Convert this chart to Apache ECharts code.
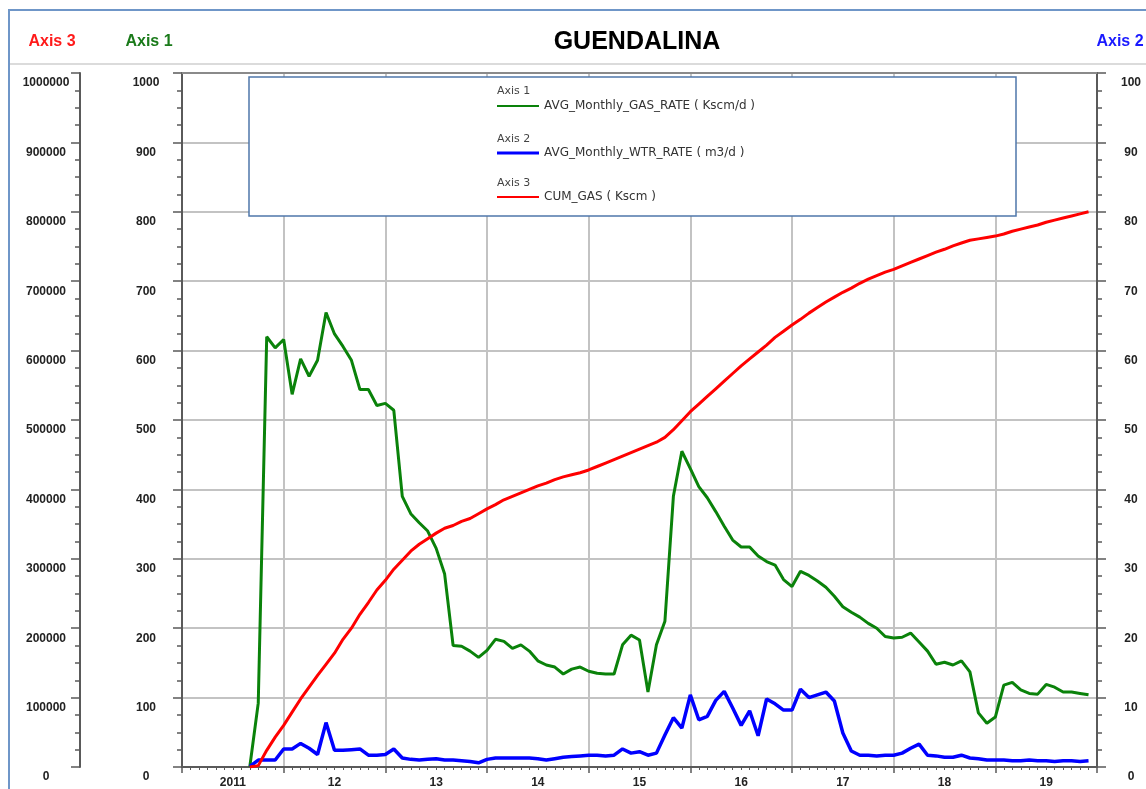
<!DOCTYPE html>
<html><head><meta charset="utf-8">
<script src="https://cdn.jsdelivr.net/npm/echarts@6/dist/echarts.min.js"></script>
<style>html,body{margin:0;padding:0;background:#fff}#c{width:1146px;height:789px}</style>
</head><body><div id="c"></div>
<script>
// ---- data (monthly, starting Sep 2011; x measured in months since Jan 2011) ----
const startMonth = '2011-09';
const yearLabels = ['2011','12','13','14','15','16','17','18','19'];

const gasRate = [ // AVG_Monthly_GAS_RATE (Kscm/d), Axis 1
  0, 92, 620, 604, 616, 537, 588, 563, 586, 655,
  624, 606, 586, 544, 544, 521, 524, 514, 390, 365,
  352, 340, 315, 278, 175, 174, 167, 158, 168, 184,
  181, 171, 176, 167, 153, 147, 144, 134, 141, 144,
  138, 135, 134, 134, 176, 190, 183, 108, 176, 210,
  390, 455, 430, 404, 388, 368, 347, 327, 317, 317,
  304, 296, 291, 270, 260, 282, 276, 268, 259, 246,
  231, 223, 216, 207, 200, 188, 186, 187, 193, 180,
  167, 148, 151, 147, 153, 137, 78, 63, 72, 118,
  122, 111, 106, 105, 119, 115, 108, 108, 106, 104
];
const wtrRate = [ // AVG_Monthly_WTR_RATE (m3/d), Axis 2
  0.1, 1.0, 1.0, 1.0, 2.6, 2.6, 3.4, 2.7, 1.8, 6.4,
  2.4, 2.4, 2.5, 2.6, 1.7, 1.7, 1.8, 2.6, 1.3, 1.1,
  1.0, 1.1, 1.2, 1.0, 1.0, 0.9, 0.8, 0.6, 1.1, 1.3,
  1.3, 1.3, 1.3, 1.3, 1.2, 1.0, 1.2, 1.4, 1.5, 1.6,
  1.7, 1.7, 1.6, 1.7, 2.6, 2.0, 2.2, 1.7, 2.0, 4.6,
  7.1, 5.6, 10.4, 6.8, 7.3, 9.6, 10.9, 8.5, 6.0, 8.1,
  4.5, 9.8, 9.1, 8.2, 8.2, 11.2, 10.0, 10.4, 10.8, 9.5,
  4.9, 2.3, 1.7, 1.7, 1.6, 1.7, 1.7, 2.0, 2.7, 3.3,
  1.7, 1.6, 1.4, 1.4, 1.7, 1.3, 1.2, 1.0, 1.0, 1.0,
  0.9, 0.9, 1.0, 0.9, 0.9, 0.8, 0.9, 0.9, 0.8, 0.9
];
const cumGas = [ // CUM_GAS (Kscm), Axis 3
  0, 2000, 24000, 43000, 60000, 79000, 98000, 115000, 132000, 148000,
  164000, 184000, 200000, 220000, 237000, 255000, 269000, 285000, 298000, 311000,
  321000, 329000, 337000, 344000, 348000, 354000, 358000, 365000, 372000, 378000,
  385000, 390000, 395000, 400000, 405000, 409000, 414000, 418000, 421000, 424000,
  428000, 433000, 438000, 443000, 448000, 453000, 458000, 463000, 468000, 475000,
  486000, 499000, 512000, 523000, 534000, 545000, 556000, 567000, 578000, 588000,
  598000, 608000, 619000, 628000, 637000, 645000, 654000, 662000, 670000, 677000,
  684000, 690000, 697000, 703000, 708000, 713000, 717000, 722000, 727000, 732000,
  737000, 742000, 746000, 751000, 755000, 759000, 761000, 763000, 765000, 768000,
  772000, 775000, 778000, 781000, 785000, 788000, 791000, 794000, 797000, 800000
];

// ---- build ----
const [sy, sm] = startMonth.split('-').map(Number);
const m0 = (sy - 2011) * 12 + (sm - 1);
const toPairs = arr => arr.map((v, i) => [m0 + i, v]);

const labelFont = {fontFamily: 'Liberation Sans, Arial, sans-serif', fontWeight: 'bold', fontSize: 12, color: '#222'};
const axisCol = '#5a5a5a';
const gridCol = '#c3c3c3';
const legendText = {fontFamily: 'DejaVu Sans', fontSize: 12, color: '#333'};

function yAxisDef(extra) {
  return Object.assign({type: 'value',
    axisLine: {show: true, onZero: false, lineStyle: {color: axisCol, width: 2}},
    axisTick: {show: true, inside: false, length: 9, lineStyle: {color: axisCol, width: 1.5}},
    minorTick: {show: true, splitNumber: 4, length: 5, lineStyle: {color: axisCol, width: 1.5}},
    splitLine: {show: false},
    axisLabel: Object.assign({margin: 34, align: 'center', verticalAlign: 'top', padding: [4, 0, 0, 0],
      formatter: v => String(v)}, labelFont)}, extra);
}

const chart = echarts.init(document.getElementById('c'), null, {renderer: 'canvas'});
chart.setOption({
  animation: false,
  backgroundColor: '#fff',
  grid: {left: 182, right: 49, top: 73, bottom: 20, containLabel: false},
  xAxis: [
    {type: 'value', min: 0, max: 108, interval: 12, position: 'bottom',
     axisLine: {show: true, onZero: false, lineStyle: {color: axisCol, width: 2}},
     axisTick: {show: true, length: 6, lineStyle: {color: axisCol, width: 1.5}},
     minorTick: {show: true, splitNumber: 12, length: 3, lineStyle: {color: axisCol, width: 1}},
     axisLabel: {show: false},
     splitLine: {show: true, lineStyle: {color: gridCol, width: 2}}},
    {type: 'value', min: 0, max: 108, interval: 6, position: 'bottom',
     axisLine: {show: false, onZero: false}, axisTick: {show: false}, splitLine: {show: false},
     axisLabel: Object.assign({show: true, margin: 10,
       formatter: v => (v % 12 === 6 ? yearLabels[(v - 6) / 12] : '')}, labelFont)},
    {type: 'value', min: 0, max: 108, position: 'top',
     axisLine: {show: true, onZero: false, lineStyle: {color: '#8a8a8a', width: 2}},
     axisTick: {show: false}, axisLabel: {show: false}, splitLine: {show: false}}
  ],
  yAxis: [
    yAxisDef({min: 0, max: 1000, interval: 100, position: 'left',
      splitLine: {show: true, lineStyle: {color: gridCol, width: 2}},
      axisLabel: Object.assign({margin: 36, align: 'center', verticalAlign: 'top', padding: [4, 0, 0, 0],
        formatter: v => String(v)}, labelFont)}),
    yAxisDef({min: 0, max: 100, interval: 10, position: 'right'}),
    yAxisDef({min: 0, max: 1000000, interval: 100000, position: 'left', offset: 102})
  ],
  legend: [
    {data: ['AVG_Monthly_GAS_RATE ( Kscm/d )'], left: 497, top: 100, padding: 0, icon: 'rect', itemWidth: 42, itemHeight: 2, z: 6,
     textStyle: legendText, selectedMode: false},
    {data: ['AVG_Monthly_WTR_RATE ( m3/d )'], left: 497, top: 147, padding: 0, icon: 'rect', itemWidth: 42, itemHeight: 3, z: 6,
     textStyle: legendText, selectedMode: false},
    {data: ['CUM_GAS ( Kscm )'], left: 497, top: 191, padding: 0, icon: 'rect', itemWidth: 42, itemHeight: 2, z: 6,
     textStyle: legendText, selectedMode: false}
  ],
  graphic: [
    {type: 'rect', z: 0, silent: true, shape: {x: 9, y: 10, width: 1200, height: 900},
     style: {fill: null, stroke: '#6f96c8', lineWidth: 2}},
    {type: 'line', z: 0, silent: true, shape: {x1: 10, y1: 64, x2: 1146, y2: 64},
     style: {stroke: '#cfcfcf', lineWidth: 1.5}},
    {type: 'text', silent: true, style: {text: 'GUENDALINA', x: 637, y: 42, textAlign: 'center', textVerticalAlign: 'middle',
      font: 'bold 25px "Liberation Sans", Arial, sans-serif', fill: '#000'}},
    {type: 'text', silent: true, style: {text: 'Axis 3', x: 52, y: 42, textAlign: 'center', textVerticalAlign: 'middle',
      font: 'bold 16px "Liberation Sans", Arial, sans-serif', fill: '#ff1a1a'}},
    {type: 'text', silent: true, style: {text: 'Axis 1', x: 149, y: 42, textAlign: 'center', textVerticalAlign: 'middle',
      font: 'bold 16px "Liberation Sans", Arial, sans-serif', fill: '#1a7a1a'}},
    {type: 'text', silent: true, style: {text: 'Axis 2', x: 1120, y: 42, textAlign: 'center', textVerticalAlign: 'middle',
      font: 'bold 16px "Liberation Sans", Arial, sans-serif', fill: '#1a1aff'}},
    {type: 'rect', z: 5, silent: true, shape: {x: 249, y: 77, width: 767, height: 139},
     style: {fill: '#fff', stroke: '#4f77aa', lineWidth: 1.5}},
    {type: 'text', z: 7, silent: true, style: {text: 'Axis 1', x: 497, y: 91, textVerticalAlign: 'middle',
      font: '11px "DejaVu Sans", sans-serif', fill: '#444'}},
    {type: 'text', z: 7, silent: true, style: {text: 'Axis 2', x: 497, y: 139, textVerticalAlign: 'middle',
      font: '11px "DejaVu Sans", sans-serif', fill: '#444'}},
    {type: 'text', z: 7, silent: true, style: {text: 'Axis 3', x: 497, y: 183, textVerticalAlign: 'middle',
      font: '11px "DejaVu Sans", sans-serif', fill: '#444'}}
  ],
  series: [
    {name: 'AVG_Monthly_GAS_RATE ( Kscm/d )', type: 'line', xAxisIndex: 0, yAxisIndex: 0, data: toPairs(gasRate),
     showSymbol: false, symbol: 'none', color: '#0a820a', lineStyle: {color: '#0a820a', width: 3}, z: 2},
    {name: 'AVG_Monthly_WTR_RATE ( m3/d )', type: 'line', xAxisIndex: 0, yAxisIndex: 1, data: toPairs(wtrRate),
     showSymbol: false, symbol: 'none', color: '#0000ff', lineStyle: {color: '#0000ff', width: 3.5}, z: 3},
    {name: 'CUM_GAS ( Kscm )', type: 'line', xAxisIndex: 0, yAxisIndex: 2, data: toPairs(cumGas),
     showSymbol: false, symbol: 'none', color: '#ff0000', lineStyle: {color: '#ff0000', width: 3}, z: 4}
  ]
});
</script></body></html>
